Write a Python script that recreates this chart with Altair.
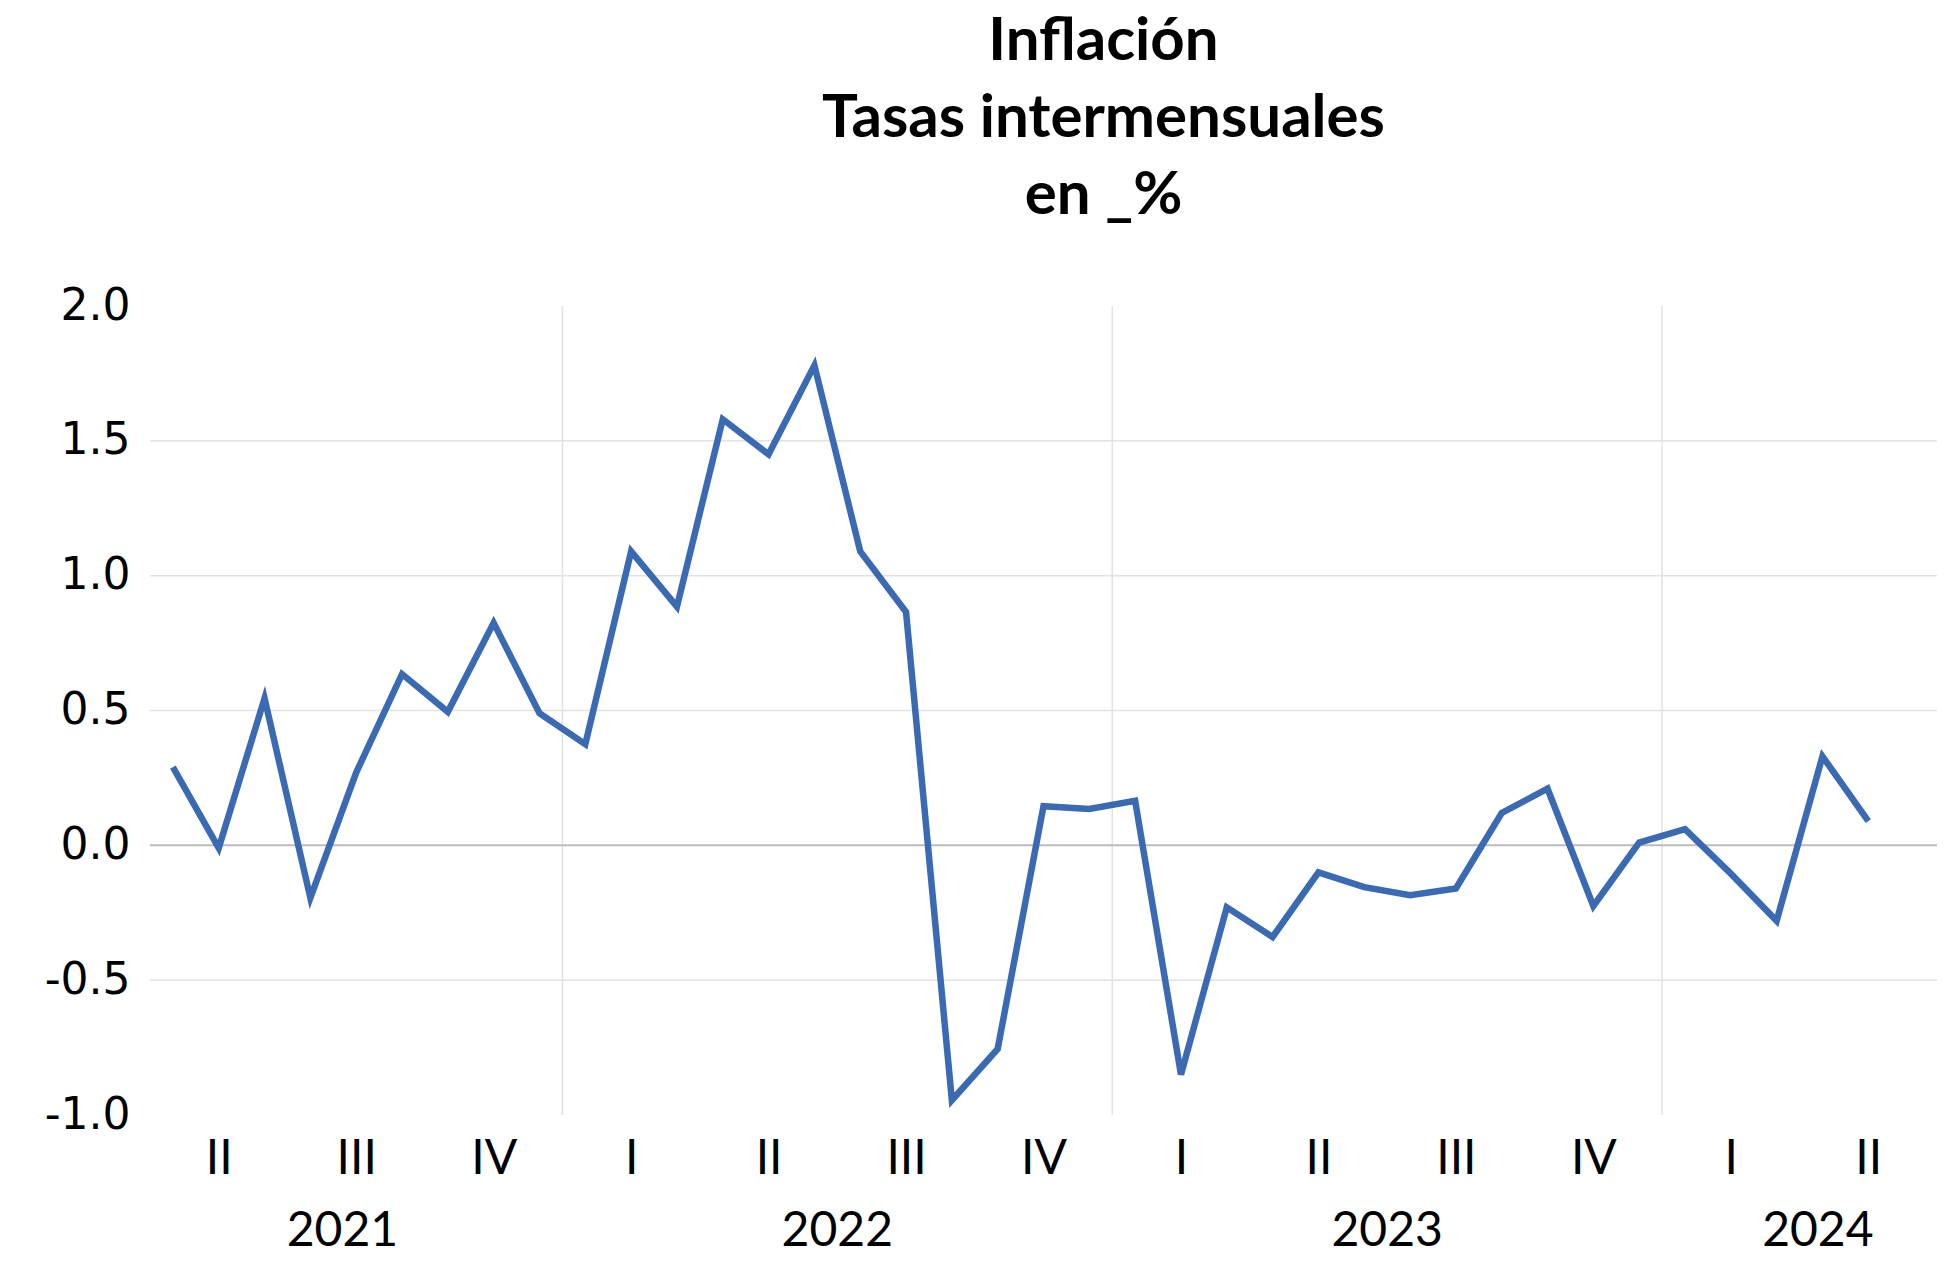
import altair as alt
import pandas as pd

# Monthly series, April 2021 .. May 2024 (index 0 = 2021-04)
months = [
    "2021-04", "2021-05", "2021-06", "2021-07", "2021-08", "2021-09", "2021-10", "2021-11", "2021-12",
    "2022-01", "2022-02", "2022-03", "2022-04", "2022-05", "2022-06", "2022-07", "2022-08", "2022-09",
    "2022-10", "2022-11", "2022-12",
    "2023-01", "2023-02", "2023-03", "2023-04", "2023-05", "2023-06", "2023-07", "2023-08", "2023-09",
    "2023-10", "2023-11", "2023-12",
    "2024-01", "2024-02", "2024-03", "2024-04", "2024-05",
]
values = [
    0.29, -0.01, 0.545, -0.195, 0.27, 0.635, 0.495, 0.825, 0.49,
    0.375, 1.09, 0.885, 1.58, 1.45, 1.78, 1.09, 0.865, -0.945,
    -0.755, 0.145, 0.135,
    0.165, -0.85, -0.23, -0.34, -0.10, -0.155, -0.185, -0.16, 0.12,
    0.21, -0.225, 0.01,
    0.06, -0.105, -0.28, 0.33, 0.09,
]

# Quarter tick labels (placed at the middle month of each quarter)
quarter_pos = [1, 4, 7, 10, 13, 16, 19, 22, 25, 28, 31, 34, 37]
quarter_names = ["II", "III", "IV", "I", "II", "III", "IV", "I", "II", "III", "IV", "I", "II"]

# Year labels and year separators
years = ["2021", "2022", "2023", "2024"]
year_pos = [3.7, 14.5, 26.5, 35.9]
year_seps = [8.5, 20.5, 32.5]

y_ticks = [2.0, 1.5, 1.0, 0.5, 0.0, -0.5, -1.0]
h_grid = [1.5, 1.0, 0.5, -0.5]

df = pd.DataFrame({"idx": list(range(len(values))), "month": months, "value": values})
grid_df = pd.DataFrame({"idx": [0] * len(h_grid), "value": h_grid})
zero_df = pd.DataFrame({"idx": [0], "value": [0.0]})
sep_df = pd.DataFrame({"idx": year_seps, "value": [0.0] * len(year_seps)})
year_df = pd.DataFrame({"idx": year_pos, "year": years})

lab_arr = [""] * 39
for p, n in zip(quarter_pos, quarter_names):
    lab_arr[p] = n
label_expr = "[" + ",".join("'" + s + "'" for s in lab_arr) + "][datum.value]"

W, H = 1787, 809
xscale = alt.Scale(domain=[-0.5, 38.5], nice=False, zero=False)
yscale = alt.Scale(domain=[-1, 2], nice=False, zero=False)

x_axis = alt.Axis(
    values=quarter_pos,
    labelExpr=label_expr,
    title=None,
    grid=False,
    ticks=False,
    domain=False,
    labelFont="Lato",
    labelFontSize=48,
    labelColor="black",
    labelPadding=20,
    labelFlush=False,
    labelOverlap=False,
)
y_axis = alt.Axis(
    values=y_ticks,
    labelExpr="(datum.value < 0 ? '-' : '') + format(abs(datum.value), '.1f')",
    title=None,
    grid=False,
    ticks=False,
    domain=False,
    labelFont="DejaVu Sans",
    labelFontSize=44,
    labelColor="black",
    labelPadding=20,
)

X = alt.X("idx:Q", scale=xscale, axis=x_axis)
Y = alt.Y("value:Q", scale=yscale, axis=y_axis)

hgrid = alt.Chart(grid_df).mark_rule(color="#e2e2e2", strokeWidth=1.5).encode(y=Y)
vgrid = alt.Chart(sep_df).mark_rule(color="#e2e2e2", strokeWidth=1.5).encode(x=X)
zero = alt.Chart(zero_df).mark_rule(color="#bcbcbc", strokeWidth=2).encode(y=Y)

line = alt.Chart(df).mark_line(color="#3A6AB3", strokeWidth=6.5).encode(x=X, y=Y)

year_text = alt.Chart(year_df).mark_text(
    font="Lato", fontSize=48, color="black", baseline="alphabetic", align="center"
).encode(
    x=X,
    y=alt.value(940),
    text="year:N",
)

chart = alt.layer(hgrid, vgrid, zero, line, year_text).properties(
    width=W,
    height=H,
    autosize=alt.AutoSizeParams(type="none"),
    padding={"left": 142, "top": 298, "right": 10, "bottom": 142},
    title=alt.TitleParams(
        text=["Inflación", "Tasas intermensuales", "en _%"],
        font="Lato",
        fontSize=60,
        fontWeight="bold",
        color="black",
        lineHeight=77,
        anchor="middle",
        frame="group",
        dx=60,
        offset=57,
    ),
).configure_view(stroke=None)

chart.save("out.html", embed_options={"renderer": "svg", "actions": False})
